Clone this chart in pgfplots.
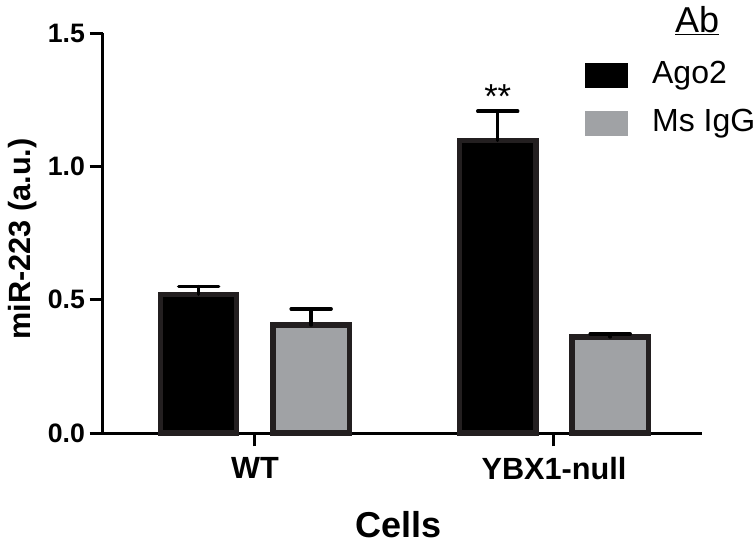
\documentclass[border=0pt]{standalone}
\usepackage{fontspec}
\setmainfont{Liberation Sans}
\usepackage{pgfplots}
\pgfplotsset{compat=1.18}
\definecolor{barline}{HTML}{231F20}
\definecolor{igggray}{HTML}{A0A2A5}
\begin{document}
\begin{tikzpicture}
% frame of the reference picture, axis box corner at (0,0)
\useasboundingbox (-77.25pt,-88.5pt) rectangle (489.75pt,324.75pt);
\begin{axis}[
  at={(0,0)}, anchor=south west,
  scale only axis,
  width=449.25pt, height=300pt,
  xmin=-0.508, xmax=1.495,
  ymin=0, ymax=1.5,
  axis x line=bottom, axis y line=left,
  axis line style={line width=2.25pt, black, -},
  xtick={0,1}, xticklabels={WT,YBX1-null},
  ytick={0,0.5,1,1.5},
  yticklabel style={/pgf/number format/.cd, fixed, fixed zerofill, precision=1, assume math mode=true},
  xticklabel style={yshift=-5pt, font=\bfseries\fontsize{23}{23}\selectfont},
  tick align=outside,
  major tick length=10pt,
  tick style={line width=2.25pt, black},
  tick label style={font=\bfseries\fontsize{20}{20}\selectfont},
  ylabel={miR-223 (a.u.)},
  ylabel style={at={(axis description cs:0,0.485)}, anchor=center, yshift=60pt, font=\bfseries\fontsize{23}{23}\selectfont},
  xlabel={Cells},
  xlabel style={at={(axis description cs:0.493,0)}, anchor=center, yshift=-69pt, font=\bfseries\fontsize{27}{27}\selectfont},
  ybar, bar width=0.255,
  error bars/y dir=plus, error bars/y explicit,
  error bars/error bar style={line width=2.6pt, black, line cap=round},
  error bars/error mark options={rotate=90, mark size=15pt, line width=2.6pt, black, line cap=round},
  legend image code/.code={\fill[#1, draw=none] (0pt,-9.5pt) rectangle (32pt,9.5pt);},
  legend style={at={(rel axis cs:0.805,0.935)}, anchor=north west, draw=none, fill=none,
    inner sep=0pt, row sep=12pt, column sep=18pt,
    nodes={inner sep=0pt, text height=18pt, text depth=6pt},
    font=\fontsize{24}{24}\selectfont},
  legend cell align=left,
  clip=false,
]
\addplot[fill=black, draw=barline, line width=4pt, bar shift=-0.188]
  coordinates {(0,0.520) +- (0,0.029) (1,1.097) +- (0,0.110)};
\addplot[fill=igggray, draw=barline, line width=4pt, bar shift=0.188]
  coordinates {(0,0.405) +- (0,0.060) (1,0.360) +- (0,0.012)};
\legend{Ago2, Ms IgG}
\node[font=\fontsize{27}{27}\selectfont, anchor=center] at (rel axis cs:0.992,1.03) {\underline{Ab}};
\node[font=\fontsize{26}{26}\selectfont, anchor=base, inner sep=0pt, yshift=2pt] at (axis cs:0.812,1.207) {**};
\end{axis}
\end{tikzpicture}
\end{document}
